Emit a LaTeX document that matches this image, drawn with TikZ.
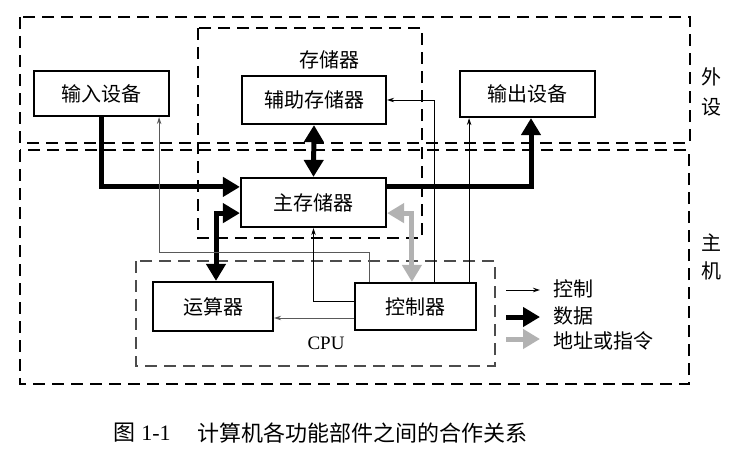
\documentclass[tikz,border=0pt]{standalone}
\usepackage{fontspec}
\setmainfont{Liberation Serif}
\newfontfamily\cjk{Noto Sans CJK SC}
\usetikzlibrary{arrows.meta,calc}
\definecolor{addrgray}{gray}{0.70}
\definecolor{thingray}{gray}{0.35}
\tikzset{
  unitbox/.style={draw, line width=2.2pt, inner sep=0pt, font=\cjk\fontsize{20}{22}\selectfont},
  dashbox/.style={line width=1.6pt, dash pattern=on 12pt off 7pt},
  datalink/.style={line width=5pt, -{Triangle[length=17pt,width=19pt]}},
  databoth/.style={line width=5pt, {Triangle[length=17pt,width=19pt]}-{Triangle[length=17pt,width=19pt]}},
  addrboth/.style={addrgray, line width=5pt, {Triangle[length=17pt,width=19pt]}-{Triangle[length=17pt,width=19pt]}},
  addrlink/.style={addrgray, line width=5pt, -{Triangle[length=17pt,width=19pt]}},
  ctllink/.style={line width=1pt, -{Stealth[length=7pt,width=4.5pt]}},
  ctlgray/.style={ctllink, thingray},
  plain/.style={font=\cjk\fontsize{20}{22}\selectfont, inner sep=0pt},
}
\begin{document}
\begin{tikzpicture}[x=1pt,y=-1pt]
\useasboundingbox (0,0) rectangle (736,452);
\fill[white] (0,0) rectangle (736,452);
% dashed frames
\draw[dashbox] (20,17) rectangle (690,143);
\draw[dashbox] (20,150) rectangle (689,384);
\draw[dashbox] (198,28) rectangle (422,238);
\draw[dashbox, black!70] (136,261) rectangle (495,366);
% boxes
\node[unitbox, minimum width=135pt, minimum height=45pt] (inp) at (101.5,93.5) {输入设备};
\node[unitbox, minimum width=144pt, minimum height=48pt] (aux) at (314,100) {辅助存储器};
\node[unitbox, minimum width=135pt, minimum height=46pt] (out) at (527.5,94) {输出设备};
\node[unitbox, minimum width=145pt, minimum height=49pt] (mem) at (313.5,202.5) {主存储器};
\node[unitbox, minimum width=120pt, minimum height=49pt] (alu) at (213,306.5) {运算器};
\node[unitbox, minimum width=121pt, minimum height=47pt] (ctrl) at (415.5,306.5) {控制器};
% labels
\node[plain] (memlbl) at (329,60) {存储器};
\node[plain] (wai) at (711,77) {外};
\node[plain] (she) at (711,107) {设};
\node[plain] (zhu) at (711,243) {主};
\node[plain] (ji) at (711,271) {机};
\node[font=\fontsize{19}{21}\selectfont, inner sep=0pt] (cpu) at (326,343) {CPU};
% data connectors
\draw[datalink] (inp.south) |- ($(mem.north west)+(0,10)$);
\draw[datalink] ($(mem.north east)+(0,10)$) -| ($(out.south)+(3.5,0)$);
\draw[databoth] (aux.south) -- (mem.north);
\draw[databoth] ($(mem.south west)+(0,-15)$) -| ($(alu.north)+(3,0)$);
% address / instruction
\draw[addrboth] ($(mem.south east)+(0,-15)$) -| ($(ctrl.north west)+(58,0)$);
% control connectors
\draw[ctllink] ($(ctrl.north east)+(-8,0)$) coordinate (c1) -- (c1 |- out.south);
\draw[ctllink] ($(ctrl.north west)+(81,0)$) |- (aux.east);
\draw[ctlgray] ($(ctrl.north west)+(16,0)$) -- ($(ctrl.north west)+(16,-29)$) -| ($(inp.south east)+(-11,0)$);
\draw[ctllink] ($(ctrl.west)+(0,-5.5)$) -| (mem.south);
\draw[ctlgray] ($(ctrl.west)+(0,11.5)$) coordinate (c3) -- (c3 -| alu.east);
% legend
\coordinate (l1a) at (506,290); \coordinate (l1b) at (540,290);
\coordinate (l2a) at (506,317); \coordinate (l2b) at (540,317);
\coordinate (l3a) at (506,339); \coordinate (l3b) at (540,339);
\draw[ctllink] (l1a) -- (l1b);
\draw[datalink] (l2a) -- (l2b);
\draw[addrlink] (l3a) -- (l3b);
\node[plain, anchor=west] (lg1) at (553,289) {控制};
\node[plain, anchor=west] (lg2) at (553,316) {数据};
\node[plain, anchor=west] (lg3) at (553,341) {地址或指令};
% caption
\node[font=\cjk\fontsize{22}{24}\selectfont, inner sep=0pt] (cap1) at (124,433) {图};
\node[font=\fontsize{22}{24}\selectfont, inner sep=0pt] (cap2) at (156,433) {1-1};
\node[font=\cjk\fontsize{22}{24}\selectfont, inner sep=0pt, anchor=west] (cap3) at (197,433) {计算机各功能部件之间的合作关系};
\end{tikzpicture}
\end{document}
